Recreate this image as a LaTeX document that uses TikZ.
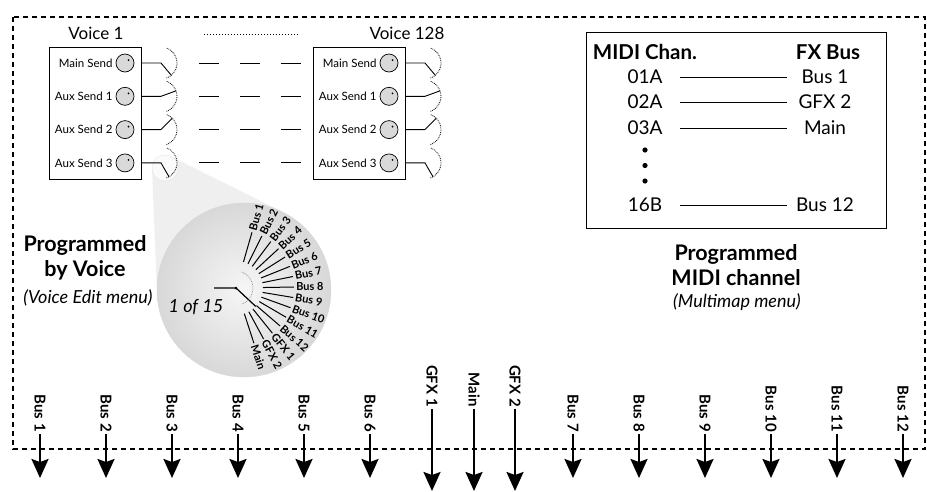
\documentclass[tikz,border=0pt]{standalone}
\usepackage{fontspec}
\setmainfont{Lato}
\usetikzlibrary{arrows.meta, positioning, calc}
\definecolor{knobgray}{HTML}{D9D9D9}
\definecolor{conegray}{HTML}{EFEFEF}
\definecolor{lensrim}{HTML}{D8D8D8}
\definecolor{lenscore}{HTML}{F6F6F6}

\begin{document}
\begin{tikzpicture}[
    x=1pt, y=-1pt,
    frame/.style={draw, line width=1.1pt, dash pattern=on 5pt off 4pt},
    voicebox/.style={
        draw, line width=1pt, fill=white,
        minimum width=92pt, minimum height=132pt, inner sep=0pt,
    },
    voicelab/.style={font=\fontsize{17}{20}\selectfont, inner sep=0pt},
    sendlab/.style={font=\fontsize{11.5}{13}\selectfont, inner sep=1pt},
    knob/.style={
        draw, line width=0.7pt, fill=knobgray,
        circle, minimum size=18pt, inner sep=0pt,
    },
    gapdash/.style={line width=0.9pt, dash pattern=on 20pt off 21pt},
    tablebox/.style={
        draw, line width=0.9pt,
        minimum width=300pt, minimum height=196pt, inner sep=0pt,
    },
    chan/.style={font=\fontsize{19}{22}\selectfont, minimum width=70pt, inner sep=0pt},
    fxbus/.style={font=\fontsize{19}{22}\selectfont, minimum width=76pt, inner sep=0pt},
    head/.style={font=\bfseries\fontsize{20.5}{22}\selectfont, inner sep=0pt},
    caption/.style={font=\bfseries\fontsize{21.5}{25}\selectfont, align=center, inner sep=0pt},
    menulab/.style={font=\itshape\fontsize{18}{20}\selectfont, inner sep=0pt},
    spoke/.style={font=\bfseries\fontsize{11}{12}\selectfont, inner sep=0pt, anchor=west},
    outlab/.style={font=\bfseries\fontsize{15}{17}\selectfont, rotate=-90, anchor=east, inner sep=2pt},
    outarrow/.style={-{Stealth[length=19pt, width=17pt, inset=3pt]}, line width=2.2pt},
]
\useasboundingbox (0,0) rectangle (927,491);

% dashed outline of the module
\draw[frame] (13,17) rectangle (925,449);

% magnifier
\fill[conegray] (152,168.5) -- (157,293.5) -- (282.8,212.1) -- (170.8,156.4) -- cycle;
\node[circle, minimum size=174pt, inner sep=0pt, draw=lensrim,
      inner color=lenscore, outer color=lensrim] (lens) at (244,290) {};
\node[circle, minimum size=26pt, inner sep=0pt, draw=gray!20, fill=gray!3] (spot) at (165,168) {};

% voices
\node[voicebox] (va) at (95,113) {};
\node[voicebox] (vb) at (359,113) {};
\node[voicelab] (vla) at (96,33) {Voice 1};
\node[voicelab] (vlb) at (407,33) {Voice 128};
\draw[line width=1pt, dotted] (vla.east) ++(80,1) -- ++(94,0);

\foreach \v/\dx in {va/0, vb/264} {
  \foreach \i/\txt/\ang in {1/Main Send/-50, 2/Aux Send 1/20, 3/Aux Send 2/45, 4/Aux Send 3/-60} {
    \pgfmathsetmacro\yy{63+33.3*(\i-1)}
    \node[knob] (\v-k\i) at (125+\dx,\yy) {};
    \fill ($(\v-k\i.center)+(3.5,-3)$) circle (1pt);
    \node[sendlab, left=2pt of \v-k\i] (\v-l\i) {\txt};
    \coordinate (\v-p\i) at (161+\dx,\yy);
    \draw[line width=0.9pt] (\v-k\i -| \v.east) -- (\v-p\i) -- ++({-\ang}:16);
    \draw[densely dotted, line width=0.8pt] ($(\v-p\i)+(70:16)$) arc[start angle=70, end angle=-70, radius=16];
  }
}
\foreach \i in {1,...,4}
  \draw[gapdash, shorten <=38pt, shorten >=12pt] (va-p\i) -- (vb-k\i -| vb.west);

% inside the lens
\coordinate (hub) at (236,288);
\coordinate (hubin) at (214,288);
\draw[line width=1.2pt] (hubin) -- (hub) -- ++(43:27);
\fill (hub) circle (1.5pt);
\draw[densely dotted, gray, line width=0.7pt] ($(hub)+(70:17)$) arc[start angle=70, end angle=-70, radius=17];
\foreach \k/\name in {0/Bus 1, 1/Bus 2, 2/Bus 3, 3/Bus 4, 4/Bus 5, 5/Bus 6, 6/Bus 7, 7/Bus 8,
                      8/Bus 9, 9/Bus 10, 10/Bus 11, 11/Bus 12, 12/GFX 1, 13/GFX 2, 14/Main} {
  \pgfmathsetmacro\aa{74-10.43*\k}
  \draw[line width=1pt] ($(hub)+({-\aa}:27)$) -- ($(hub)+({-\aa}:58)$);
  \node[spoke, rotate=\aa] (sp\k) at ($(hub)+({-\aa}:60)$) {\name};
}
\node[menulab] (count) at (196,307) {1 of 15};

% captions
\node[caption] (pvoice) at (85,257.5) {Programmed\\by Voice};
\node[menulab] (pvmenu) at (88,298) {(Voice Edit menu)};
\node[caption] (pmidi) at (736,265.5) {Programmed\\MIDI channel};
\node[menulab] (pmmenu) at (737,302) {(Multimap menu)};

% multimap table
\node[tablebox] (tab) at (736,130) {};
\node[head] (hch) at (645,52) {MIDI Chan.};
\node[head] (hfx) at (828,52) {FX Bus};
\node[chan] (c1) at (645,77) {01A};
\node[fxbus] (b1) at (825,77) {Bus 1};
\node[chan] (c2) at (645,102) {02A};
\node[fxbus] (b2) at (825,102) {GFX 2};
\node[chan] (c3) at (645,128) {03A};
\node[fxbus] (b3) at (825,128) {Main};
\node[chan] (c4) at (645,205) {16B};
\node[fxbus] (b4) at (825,205) {Bus 12};
\foreach \i in {1,...,4}
  \draw[line width=0.8pt] (c\i) -- (b\i);
\fill (645,150) circle (2.6pt);
\fill (645,165.5) circle (2.6pt);
\fill (645,181) circle (2.6pt);

% outputs
\foreach \x/\name in {40/Bus 1, 106/Bus 2, 172/Bus 3, 238/Bus 4, 304/Bus 5, 370/Bus 6,
                      573/Bus 7, 639/Bus 8, 705/Bus 9, 771/Bus 10, 837/Bus 11, 903/Bus 12} {
  \node[outlab] (o\x) at (\x,434) {\name};
  \coordinate (t\x) at (\x,478);
  \draw[outarrow] (o\x) -- (t\x);
}
\foreach \x/\name in {432/GFX 1, 474/Main, 515/GFX 2} {
  \node[outlab] (o\x) at (\x,409) {\name};
  \coordinate (t\x) at (\x,491);
  \draw[outarrow] (o\x) -- (t\x);
}
\end{tikzpicture}
\end{document}
